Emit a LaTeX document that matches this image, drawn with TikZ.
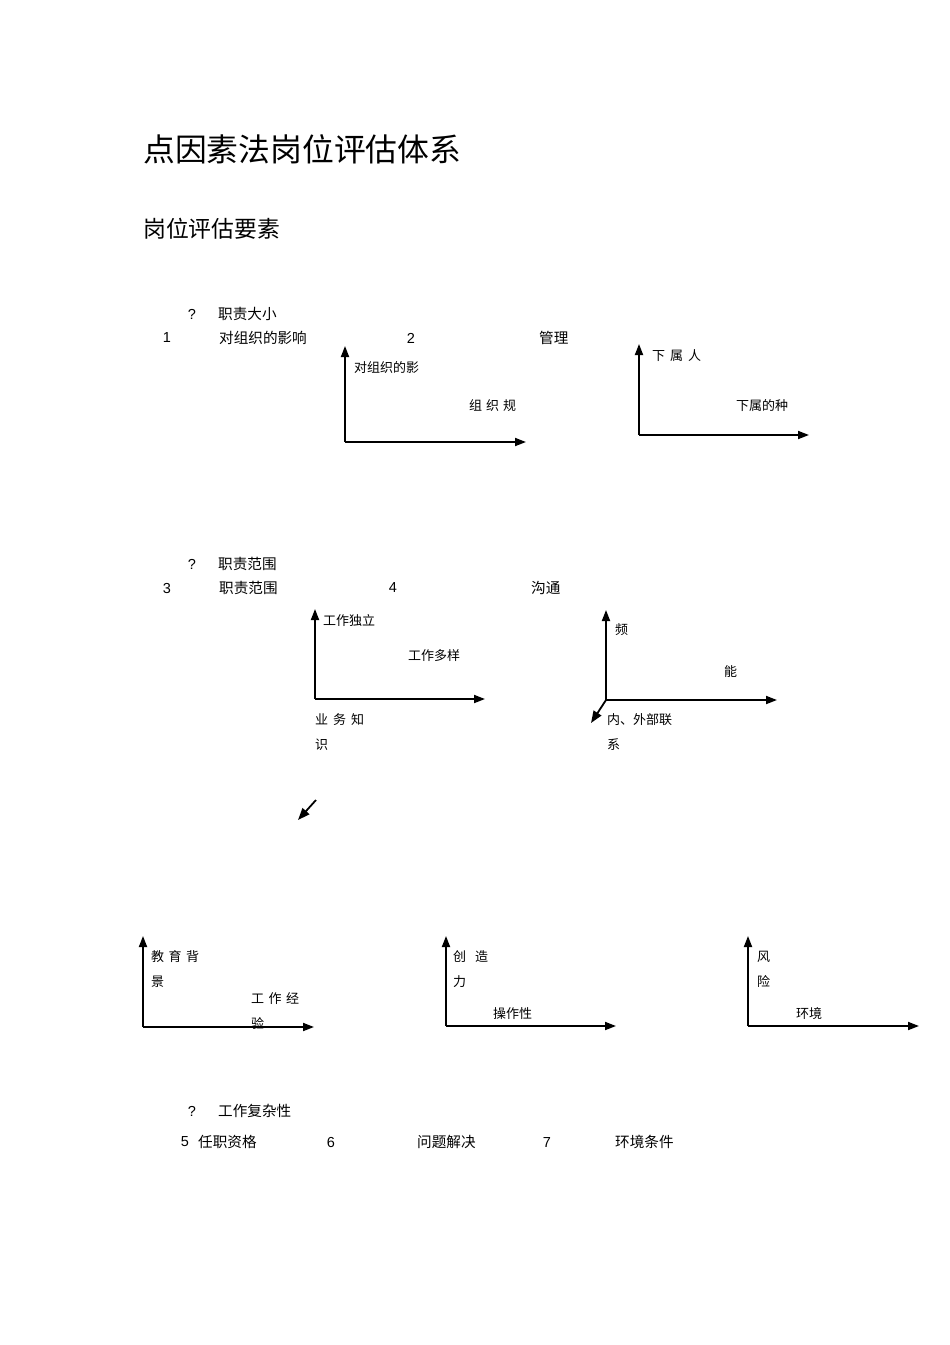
\documentclass[tikz,border=0pt]{standalone}
\usepackage{fontspec}
\setmainfont{Liberation Sans}
\newfontfamily\cjk{Noto Sans CJK SC}
\usetikzlibrary{arrows.meta}
\begin{document}
\begin{tikzpicture}[x=1pt,y=-1pt,
  lbl/.style={anchor=west,inner sep=0pt,yshift=-1.5pt,font=\cjk\fontsize{14.6}{15}\selectfont},
  num/.style={anchor=center,inner sep=0pt,yshift=-2pt,font=\fontsize{14.5}{15}\selectfont},
  axl/.style={anchor=west,inner sep=0pt,yshift=-1.5pt,font=\cjk\fontsize{13}{13}\selectfont},
  axisline/.style={line width=1.8pt,-{Triangle[length=11pt,width=8pt]}},
  diagline/.style={line width=1.8pt,-{Triangle[length=12pt,width=9pt]}}]
\useasboundingbox (0,0) rectangle (950,1345);

% titles
\node[anchor=west,inner sep=0pt,yshift=-1pt,font=\cjk\fontsize{31.8}{32}\selectfont] (title) at (143,148) {点因素法岗位评估体系};
\node[anchor=west,inner sep=0pt,yshift=-1pt,font=\cjk\fontsize{22.8}{23}\selectfont] (sub) at (143,228) {岗位评估要素};

% section 1
\node[num] (q1) at (192,312) {?};
\node[lbl] (s1) at (218,312) {职责大小};
\node[num] (n1) at (167,336) {1};
\node[lbl] (t1) at (219,336) {对组织的影响};
\node[num] (n2) at (411,336) {2};
\node[lbl] (t2) at (539,336) {管理};

% chart 1
\coordinate (o1) at (345,442);
\coordinate (y1) at (345,346);
\coordinate (x1) at (526,442);
\draw[axisline] (o1) -- (y1);
\draw[axisline] (o1) -- (x1);
\node[axl] (a1y) at (354,366) {对组织的影};
\node[axl] (a1x) at (469,404) {组\hspace{4pt}织\hspace{4pt}规};

% chart 2
\coordinate (o2) at (639,435);
\coordinate (y2) at (639,344);
\coordinate (x2) at (809,435);
\draw[axisline] (o2) -- (y2);
\draw[axisline] (o2) -- (x2);
\node[axl] (a2y) at (652,354) {下\hspace{5pt}属\hspace{5pt}人};
\node[axl] (a2x) at (736,404) {下属的种};

% section 2
\node[num] (q2) at (192,562) {?};
\node[lbl] (s2) at (218,562) {职责范围};
\node[num] (n3) at (167,586) {3};
\node[lbl] (t3) at (219,586) {职责范围};
\node[num] (n4) at (393,586) {4};
\node[lbl] (t4) at (531,586) {沟通};

% chart 3
\coordinate (o3) at (315,699);
\coordinate (y3) at (315,609);
\coordinate (x3) at (485,699);
\draw[axisline] (o3) -- (y3);
\draw[axisline] (o3) -- (x3);
\node[axl] (a3y) at (323,619) {工作独立};
\node[axl] (a3x) at (408,654) {工作多样};
\node[axl] (a3z) at (315,718) {业\hspace{5pt}务\hspace{5pt}知};
\node[axl] (a3w) at (315,743) {识};

% chart 4
\coordinate (o4) at (606,700);
\coordinate (y4) at (606,610);
\coordinate (x4) at (777,700);
\coordinate (z4) at (591,723);
\draw[axisline] (o4) -- (y4);
\draw[axisline] (o4) -- (x4);
\draw[diagline] (o4) -- (z4);
\node[axl] (a4y) at (615,628) {频};
\node[axl] (a4x) at (724,670) {能};
\node[axl] (a4z) at (607,718) {内、外部联};
\node[axl] (a4w) at (607,743) {系};

% stray arrow
\coordinate (sa) at (316,800);
\coordinate (sb) at (298,820);
\draw[diagline] (sa) -- (sb);

% chart 5
\coordinate (o5) at (143,1027);
\coordinate (y5) at (143,936);
\coordinate (x5) at (314,1027);
\draw[axisline] (o5) -- (y5);
\draw[axisline] (o5) -- (x5);
\node[axl] (a5y) at (151,955) {教\hspace{4.5pt}育\hspace{4.5pt}背};
\node[axl] (a5w) at (151,980) {景};
\node[axl] (a5x) at (251,997) {工\hspace{4.5pt}作\hspace{4.5pt}经};
\node[axl] (a5v) at (251,1022) {验};

% chart 6
\coordinate (o6) at (446,1026);
\coordinate (y6) at (446,936);
\coordinate (x6) at (616,1026);
\draw[axisline] (o6) -- (y6);
\draw[axisline] (o6) -- (x6);
\node[axl] (a6y) at (453,955) {创\hspace{9pt}造};
\node[axl] (a6w) at (453,980) {力};
\node[axl] (a6x) at (493,1012) {操作性};

% chart 7
\coordinate (o7) at (748,1026);
\coordinate (y7) at (748,936);
\coordinate (x7) at (919,1026);
\draw[axisline] (o7) -- (y7);
\draw[axisline] (o7) -- (x7);
\node[axl] (a7y) at (757,955) {风};
\node[axl] (a7w) at (757,980) {险};
\node[axl] (a7x) at (796,1012) {环境};

% section 3
\node[num] (q3) at (192,1109) {?};
\node[lbl] (s3) at (218,1109) {工作复杂性};
\node[num] (n5) at (185,1140) {5};
\node[lbl] (t5) at (198,1140) {任职资格};
\node[num] (n6) at (331,1140) {6};
\node[lbl] (t6) at (417,1140) {问题解决};
\node[num] (n7) at (547,1140) {7};
\node[lbl] (t7) at (615,1140) {环境条件};
\end{tikzpicture}
\end{document}
